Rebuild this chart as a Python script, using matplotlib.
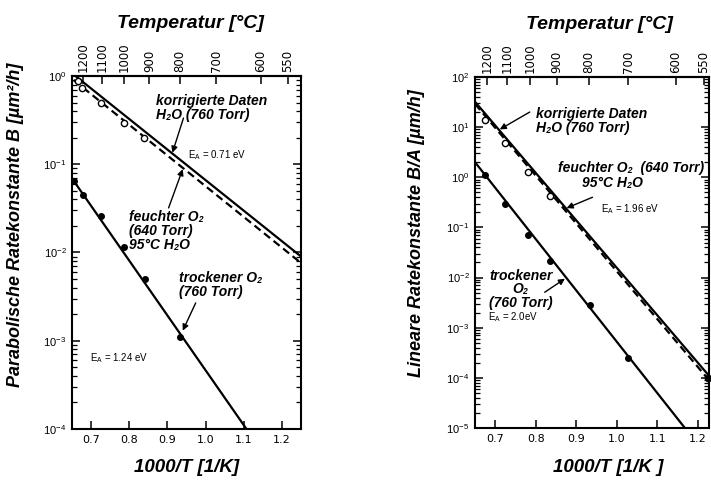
import matplotlib.pyplot as plt
import numpy as np

plt.rcParams['font.family'] = ['Liberation Sans', 'DejaVu Sans']

# ---- left panel: parabolic rate constant B [um^2/h] ----
wet_x = [0.665, 0.676, 0.726, 0.785, 0.838]
wet_B = [0.885, 0.73, 0.50, 0.29, 0.20]
dry_x = [0.655, 0.680, 0.726, 0.785, 0.841, 0.934]
dry_B = [0.065, 0.045, 0.026, 0.0115, 0.005, 0.0011]
fit_h2o_x = [0.659, 1.25]
fit_h2o_B = [1.0, 0.009]
fit_wet_x = [0.654, 1.25]
fit_wet_B = [0.9, 0.0076]
fit_dry_x = [0.65, 1.107]
fit_dry_B = [0.069, 1e-4]

# ---- right panel: linear rate constant B/A [um/h] ----
wet_x2 = [0.675, 0.724, 0.781, 0.834]
wet_BA = [13.9, 4.75, 1.29, 0.42]
wet_end_x2 = [1.224]
wet_end_BA = [1.0e-4]
dry_x2 = [0.675, 0.724, 0.781, 0.834, 0.933, 1.027]
dry_BA = [1.1, 0.29, 0.072, 0.021, 0.0029, 2.5e-4]
fit_h2o_x2 = [0.65, 1.2275]
fit_h2o_BA = [32, 1.1e-4]
fit_wet_x2 = [0.65, 1.2275]
fit_wet_BA = [29, 9e-5]
fit_dry_x2 = [0.65, 1.168]
fit_dry_BA = [2.0, 1e-5]

temps = [1200, 1100, 1000, 900, 800, 700, 600, 550]
xticks = [0.7, 0.8, 0.9, 1.0, 1.1, 1.2]

BI = dict(fontweight='bold', fontstyle='italic')


def inv_to_c(x):
    x = np.asarray(x, dtype=float)
    return 1000.0 / np.where(x == 0, 1e-9, x) - 273.15


def c_to_inv(t):
    t = np.asarray(t, dtype=float)
    return 1000.0 / np.where(t == -273.15, 1e-9, t + 273.15)


def style_axes(ax, xlim, ylim, ylabel, ylab_pos, xlab_pos, title_pos, xlabel):
    ax.set_yscale('log')
    ax.set_xlim(*xlim)
    ax.set_ylim(*ylim)
    ax.set_xticks(xticks)
    ax.set_xticklabels([f'{v:.1f}' for v in xticks], fontfamily='DejaVu Sans', fontsize=8)
    for lab in ax.get_yticklabels():
        lab.set_fontsize(8)
    ax.tick_params(which='major', direction='in', length=6, width=1.1,
                   top=False, right=True, labelsize=8, pad=4)
    ax.tick_params(which='minor', direction='in', length=3.5, width=0.9,
                   top=False, right=True)
    ax.tick_params(axis='x', which='minor', bottom=False)
    for s in ax.spines.values():
        s.set_linewidth(1.5)
    ax.set_ylabel(ylabel, fontsize=13, **BI)
    ax.yaxis.set_label_coords(*ylab_pos)
    ax.set_xlabel(xlabel, fontsize=13.5, **BI)
    ax.xaxis.set_label_coords(*xlab_pos)
    sec = ax.secondary_xaxis('top', functions=(inv_to_c, c_to_inv))
    sec.set_xticks(temps)
    sec.set_xticklabels([str(t) for t in temps], rotation=90,
                        fontfamily='DejaVu Sans', fontsize=8.5)
    sec.tick_params(direction='in', length=6, width=1.1, pad=3)
    sec.tick_params(which='minor', top=False)
    sec.spines['top'].set_linewidth(1.5)
    ax.text(title_pos[0], title_pos[1], 'Temperatur [°C]', transform=ax.transAxes,
            ha='center', va='center', fontsize=14, **BI)


def arrow(ax, head, tail):
    ax.annotate('', xy=head, xytext=tail,
                arrowprops=dict(arrowstyle='-|>', lw=1.0, color='black',
                                mutation_scale=9, shrinkA=0, shrinkB=0))


fig = plt.figure(figsize=(7.11, 4.8), dpi=100)
ax1 = fig.add_axes([0.1013, 0.1063, 0.3221, 0.7354])
ax2 = fig.add_axes([0.6681, 0.1083, 0.3291, 0.7313])

# left panel
ax1.plot(fit_h2o_x, fit_h2o_B, color='black', lw=1.6)
ax1.plot(fit_wet_x, fit_wet_B, color='black', lw=1.6, dashes=(3.5, 2))
ax1.plot(fit_dry_x, fit_dry_B, color='black', lw=1.6)
ax1.plot(wet_x, wet_B, 'o', mfc='white', mec='black', ms=4.5, mew=1.0)
ax1.plot(dry_x, dry_B, 'o', color='black', ms=4)
style_axes(ax1, (0.65, 1.25), (1e-4, 1), 'Parabolische Ratekonstante B [µm²/h]',
           (-0.21, 0.578), (0.502, -0.085), (0.515, 1.15), '1000/T [1/K]')

ax1.text(0.869, 0.43, 'korrigierte Daten\nH₂O (760 Torr)', fontsize=10,
         ha='left', va='center', linespacing=1.0, **BI)
arrow(ax1, (0.913, 0.135), (0.942, 0.334))
ax1.text(0.953, 0.127, 'E$_\\mathregular{A}$ = 0.71 eV', fontsize=7, ha='left', va='center')
ax1.text(0.80, 0.0175, 'feuchter O₂\n(640 Torr)\n95°C H₂O', fontsize=10,
         ha='left', va='center', linespacing=1.0, **BI)
arrow(ax1, (0.940, 0.088), (0.903, 0.032))
ax1.text(0.929, 0.0043, 'trockener O₂\n(760 Torr)', fontsize=10,
         ha='left', va='center', linespacing=1.0, **BI)
arrow(ax1, (0.940, 0.0013), (0.974, 0.00268))
ax1.text(0.698, 6.4e-4, 'E$_\\mathregular{A}$ = 1.24 eV', fontsize=7, ha='left', va='center')

# right panel
ax2.plot(fit_h2o_x2, fit_h2o_BA, color='black', lw=1.6)
ax2.plot(fit_wet_x2, fit_wet_BA, color='black', lw=1.6, dashes=(3.5, 2))
ax2.plot(fit_dry_x2, fit_dry_BA, color='black', lw=1.6)
ax2.plot(wet_x2, wet_BA, 'o', mfc='white', mec='black', ms=4.5, mew=1.0)
ax2.plot(wet_end_x2, wet_end_BA, 'o', color='black', ms=4.5, clip_on=False)
ax2.plot(dry_x2, dry_BA, 'o', color='black', ms=4)
style_axes(ax2, (0.65, 1.2275), (1e-5, 1e2), 'Lineare Ratekonstante B/A [µm/h]',
           (-0.214, 0.556), (0.568, -0.088), (0.53, 1.15), '1000/T [1/K ]')

ax2.text(0.80, 13.5, 'korrigierte Daten\nH₂O (760 Torr)', fontsize=10,
         ha='left', va='center', linespacing=1.0, **BI)
arrow(ax2, (0.711, 9.0), (0.785, 20))
ax2.text(0.854, 1.53, 'feuchter O₂  (640 Torr)', fontsize=10,
         ha='left', va='center', **BI)
ax2.text(0.915, 0.766, '95°C H₂O', fontsize=10, ha='left', va='center', **BI)
arrow(ax2, (0.876, 0.243), (0.940, 0.40))
ax2.text(0.962, 0.232, 'E$_\\mathregular{A}$ = 1.96 eV', fontsize=7, ha='left', va='center')
ax2.text(0.763, 0.0059, 'trockener\nO₂\n(760 Torr)', fontsize=10,
         ha='center', va='center', linespacing=0.95, **BI)
arrow(ax2, (0.872, 0.0095), (0.822, 0.0051))
ax2.text(0.682, 0.0016, 'E$_\\mathregular{A}$ = 2.0eV', fontsize=7, ha='left', va='center')

fig.savefig('out.png', dpi=100)
